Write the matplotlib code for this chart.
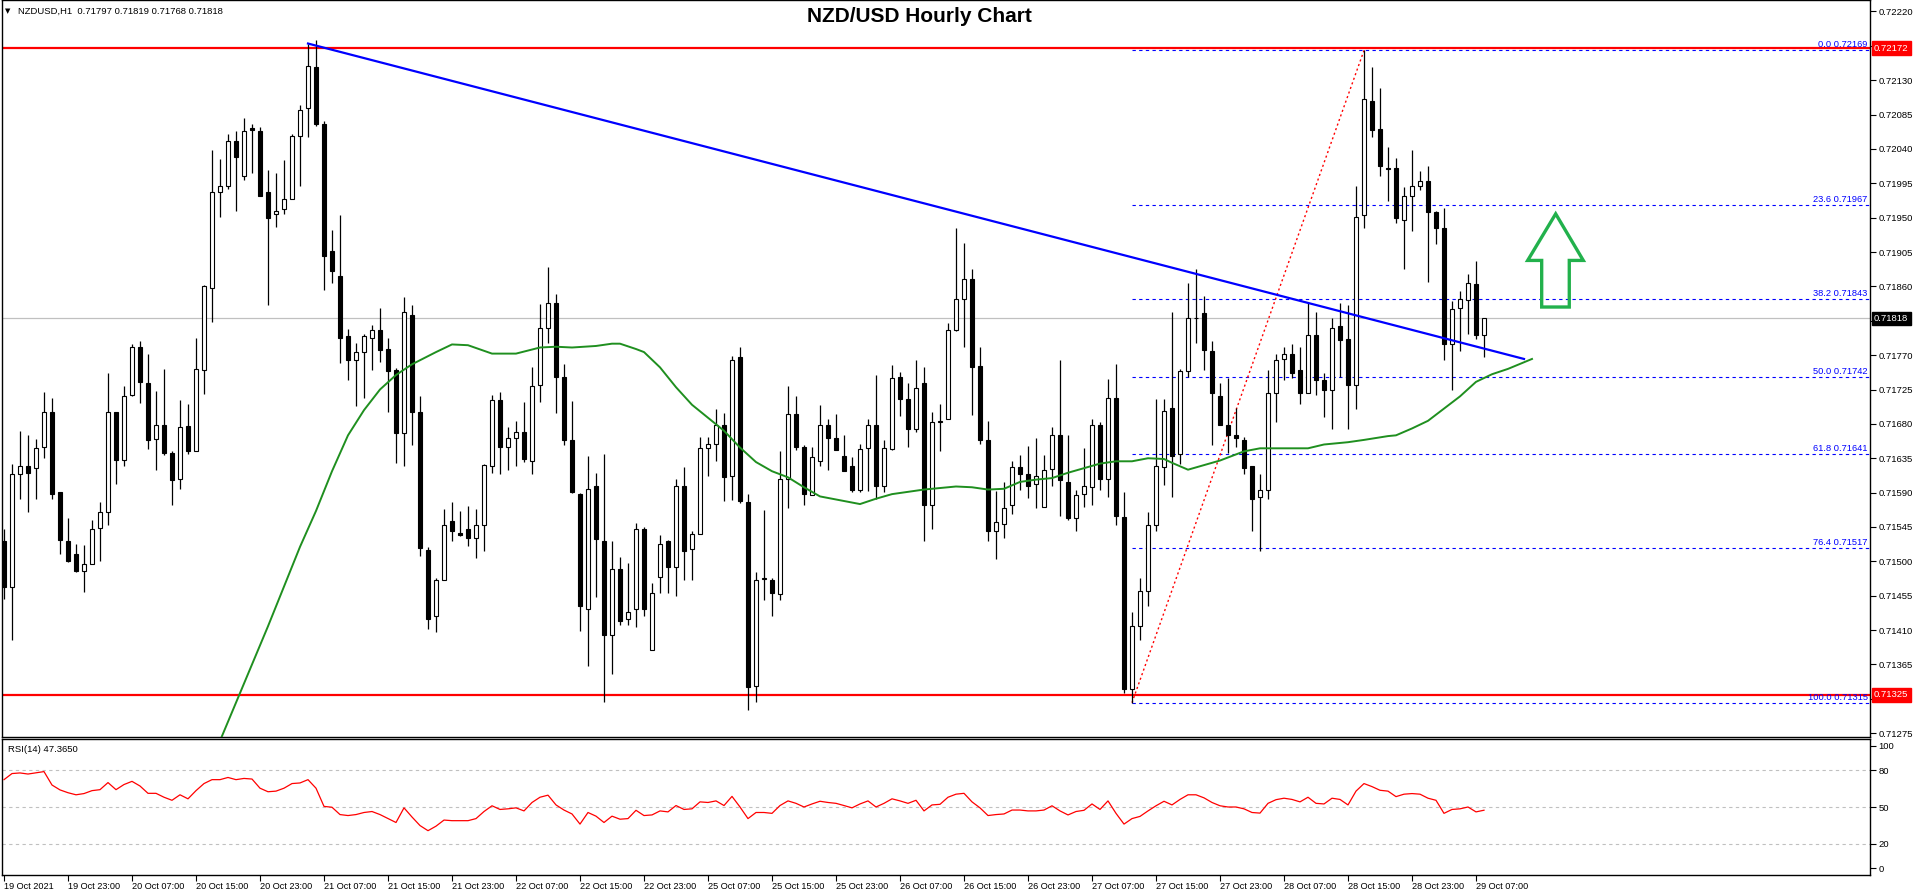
import matplotlib
matplotlib.use('Agg')
import matplotlib.pyplot as plt
from matplotlib.patches import Polygon
import matplotlib.transforms as mtransforms

plt.rcParams['font.family'] = ['Liberation Sans', 'DejaVu Sans']

# ---------------- data (NZDUSD H1, 19 Oct 15:00 .. 29 Oct 08:00) ----------------
opens = [0.71527, 0.71466, 0.71615, 0.71625, 0.71622, 0.71650, 0.71696, 0.71591, 0.71527, 0.71510,
         0.71488, 0.71497, 0.71544, 0.71565, 0.71695, 0.71633, 0.71718, 0.71780, 0.71733, 0.71660,
         0.71679, 0.71642, 0.71608, 0.71677, 0.71645, 0.71751, 0.71858, 0.71984, 0.71992, 0.72051,
         0.72005, 0.72068, 0.72064, 0.71984, 0.71955, 0.71961, 0.71975, 0.72057, 0.72093, 0.72147,
         0.72073, 0.71906, 0.71873, 0.71795, 0.71763, 0.71774, 0.71793, 0.71803, 0.71778, 0.71751,
         0.71668, 0.71823, 0.71696, 0.71515, 0.71429, 0.71476, 0.71553, 0.71537, 0.71543, 0.71530,
         0.71548, 0.71625, 0.71711, 0.71650, 0.71662, 0.71670, 0.71632, 0.71731, 0.71806, 0.71838,
         0.71741, 0.71659, 0.71588, 0.71438, 0.71598, 0.71526, 0.71403, 0.71490, 0.71424, 0.71437,
         0.71543, 0.71384, 0.71480, 0.71526, 0.71493, 0.71598, 0.71516, 0.71536, 0.71649, 0.71653,
         0.71679, 0.71612, 0.71767, 0.71578, 0.71337, 0.71477, 0.71476, 0.71457, 0.71608, 0.71693,
         0.71650, 0.71587, 0.71632, 0.71679, 0.71662, 0.71638, 0.71625, 0.71594, 0.71649, 0.71678,
         0.71598, 0.71647, 0.71741, 0.71713, 0.71673, 0.71733, 0.71574, 0.71683, 0.71687, 0.71803,
         0.71843, 0.71870, 0.71756, 0.71659, 0.71540, 0.71549, 0.71574, 0.71624, 0.71615, 0.71601,
         0.71571, 0.71621, 0.71666, 0.71604, 0.71557, 0.71588, 0.71597, 0.71679, 0.71608, 0.71714,
         0.71558, 0.71333, 0.71415, 0.71461, 0.71548, 0.71624, 0.71701, 0.71641, 0.71749, 0.71819,
         0.71825, 0.71776, 0.71717, 0.71679, 0.71666, 0.71659, 0.71625, 0.71584, 0.71593, 0.71720,
         0.71765, 0.71771, 0.71750, 0.71721, 0.71797, 0.71737, 0.71725, 0.71808, 0.71791, 0.71731,
         0.71954, 0.72103, 0.72066, 0.72015, 0.72015, 0.71947, 0.71979, 0.71992, 0.71998, 0.71957,
         0.71936, 0.71784, 0.71832, 0.71842, 0.71863, 0.71797]
highs = [0.71542, 0.71628, 0.71671, 0.71665, 0.71660, 0.71722, 0.71714, 0.71591, 0.71557, 0.71523,
         0.71521, 0.71554, 0.71578, 0.71746, 0.71695, 0.71730, 0.71784, 0.71789, 0.71771, 0.71723,
         0.71752, 0.71645, 0.71711, 0.71706, 0.71792, 0.71862, 0.72039, 0.72027, 0.72060, 0.72064,
         0.72080, 0.72073, 0.72069, 0.72013, 0.72009, 0.72026, 0.72059, 0.72097, 0.72177, 0.72182,
         0.72076, 0.71934, 0.71954, 0.71804, 0.71786, 0.71798, 0.71809, 0.71832, 0.71792, 0.71753,
         0.71846, 0.71835, 0.71717, 0.71519, 0.71478, 0.71569, 0.71578, 0.71566, 0.71572, 0.71568,
         0.71628, 0.71718, 0.71722, 0.71676, 0.71684, 0.71708, 0.71754, 0.71837, 0.71886, 0.71850,
         0.71758, 0.71710, 0.71590, 0.71638, 0.71616, 0.71641, 0.71526, 0.71506, 0.71498, 0.71550,
         0.71545, 0.71472, 0.71534, 0.71528, 0.71608, 0.71623, 0.71540, 0.71663, 0.71663, 0.71699,
         0.71694, 0.71769, 0.71780, 0.71588, 0.71486, 0.71567, 0.71478, 0.71645, 0.71729, 0.71717,
         0.71652, 0.71650, 0.71705, 0.71687, 0.71693, 0.71665, 0.71636, 0.71653, 0.71687, 0.71744,
         0.71659, 0.71757, 0.71748, 0.71733, 0.71764, 0.71754, 0.71696, 0.71706, 0.71812, 0.71936,
         0.71917, 0.71883, 0.71781, 0.71684, 0.71592, 0.71604, 0.71631, 0.71639, 0.71651, 0.71662,
         0.71639, 0.71676, 0.71764, 0.71665, 0.71594, 0.71649, 0.71687, 0.71682, 0.71739, 0.71758,
         0.71591, 0.71434, 0.71478, 0.71565, 0.71713, 0.71713, 0.71827, 0.71752, 0.71865, 0.71883,
         0.71848, 0.71788, 0.71734, 0.71740, 0.71701, 0.71663, 0.71625, 0.71615, 0.71751, 0.71771,
         0.71780, 0.71784, 0.71780, 0.71839, 0.71826, 0.71746, 0.71818, 0.71838, 0.71835, 0.71992,
         0.72169, 0.72147, 0.72120, 0.72042, 0.72028, 0.71990, 0.72039, 0.72011, 0.72017, 0.71959,
         0.71962, 0.71841, 0.71854, 0.71876, 0.71893, 0.71819]
lows = [0.71451, 0.71397, 0.71582, 0.71565, 0.71581, 0.71635, 0.71582, 0.71510, 0.71499, 0.71486,
        0.71460, 0.71496, 0.71501, 0.71547, 0.71601, 0.71625, 0.71716, 0.71707, 0.71647, 0.71620,
        0.71639, 0.71574, 0.71595, 0.71641, 0.71645, 0.71719, 0.71814, 0.71951, 0.71987, 0.71959,
        0.71999, 0.72009, 0.71978, 0.71836, 0.71938, 0.71955, 0.71975, 0.71992, 0.72056, 0.72070,
        0.71855, 0.71865, 0.71760, 0.71737, 0.71703, 0.71714, 0.71750, 0.71761, 0.71696, 0.71629,
        0.71625, 0.71652, 0.71507, 0.71411, 0.71407, 0.71476, 0.71526, 0.71533, 0.71520, 0.71505,
        0.71514, 0.71616, 0.71614, 0.71619, 0.71625, 0.71630, 0.71614, 0.71708, 0.71786, 0.71694,
        0.71652, 0.71589, 0.71409, 0.71363, 0.71453, 0.71316, 0.71353, 0.71416, 0.71416, 0.71414,
        0.71428, 0.71384, 0.71459, 0.71458, 0.71455, 0.71476, 0.71475, 0.71536, 0.71612, 0.71631,
        0.71579, 0.71580, 0.71577, 0.71306, 0.71316, 0.71450, 0.71429, 0.71450, 0.71570, 0.71646,
        0.71574, 0.71587, 0.71625, 0.71620, 0.71646, 0.71618, 0.71591, 0.71591, 0.71592, 0.71581,
        0.71591, 0.71646, 0.71690, 0.71650, 0.71669, 0.71526, 0.71543, 0.71644, 0.71687, 0.71801,
        0.71780, 0.71692, 0.71653, 0.71526, 0.71503, 0.71530, 0.71562, 0.71594, 0.71583, 0.71570,
        0.71571, 0.71598, 0.71560, 0.71554, 0.71540, 0.71571, 0.71574, 0.71593, 0.71584, 0.71548,
        0.71327, 0.71315, 0.71397, 0.71441, 0.71540, 0.71600, 0.71584, 0.71628, 0.71742, 0.71786,
        0.71751, 0.71652, 0.71679, 0.71642, 0.71650, 0.71615, 0.71540, 0.71514, 0.71581, 0.71683,
        0.71738, 0.71740, 0.71706, 0.71720, 0.71718, 0.71689, 0.71673, 0.71741, 0.71673, 0.71699,
        0.71936, 0.72055, 0.72005, 0.71972, 0.71943, 0.71883, 0.71932, 0.71986, 0.71866, 0.71916,
        0.71764, 0.71725, 0.71775, 0.71798, 0.71791, 0.71768]
closes = [0.71466, 0.71615, 0.71625, 0.71616, 0.71649, 0.71696, 0.71588, 0.71528, 0.71501, 0.71488,
          0.71496, 0.71543, 0.71565, 0.71696, 0.71633, 0.71717, 0.71781, 0.71735, 0.71659, 0.71679,
          0.71642, 0.71607, 0.71676, 0.71644, 0.71752, 0.71860, 0.71983, 0.71992, 0.72051, 0.72029,
          0.72063, 0.72065, 0.71979, 0.71950, 0.71959, 0.71975, 0.72057, 0.72091, 0.72149, 0.72073,
          0.71900, 0.71880, 0.71792, 0.71763, 0.71774, 0.71795, 0.71803, 0.71777, 0.71749, 0.71668,
          0.71826, 0.71696, 0.71518, 0.71424, 0.71476, 0.71548, 0.71540, 0.71535, 0.71530, 0.71547,
          0.71626, 0.71711, 0.71650, 0.71662, 0.71670, 0.71634, 0.71730, 0.71806, 0.71838, 0.71741,
          0.71659, 0.71591, 0.71441, 0.71595, 0.71529, 0.71404, 0.71490, 0.71422, 0.71434, 0.71543,
          0.71438, 0.71459, 0.71523, 0.71493, 0.71598, 0.71514, 0.71536, 0.71649, 0.71653, 0.71678,
          0.71611, 0.71764, 0.71579, 0.71336, 0.71476, 0.71478, 0.71458, 0.71608, 0.71693, 0.71650,
          0.71588, 0.71636, 0.71678, 0.71662, 0.71646, 0.71618, 0.71594, 0.71647, 0.71678, 0.71598,
          0.71649, 0.71740, 0.71713, 0.71673, 0.71727, 0.71574, 0.71683, 0.71684, 0.71803, 0.71843,
          0.71870, 0.71755, 0.71659, 0.71540, 0.71551, 0.71570, 0.71624, 0.71614, 0.71598, 0.71612,
          0.71619, 0.71666, 0.71607, 0.71557, 0.71587, 0.71598, 0.71679, 0.71608, 0.71714, 0.71560,
          0.71333, 0.71415, 0.71461, 0.71548, 0.71625, 0.71697, 0.71638, 0.71749, 0.71818, 0.71818,
          0.71777, 0.71721, 0.71679, 0.71666, 0.71662, 0.71622, 0.71582, 0.71593, 0.71721, 0.71764,
          0.71771, 0.71746, 0.71721, 0.71797, 0.71737, 0.71725, 0.71806, 0.71790, 0.71731, 0.71951,
          0.72106, 0.72065, 0.72018, 0.72014, 0.71950, 0.71979, 0.71992, 0.71998, 0.71957, 0.71937,
          0.71784, 0.71831, 0.71843, 0.71864, 0.71797, 0.71818]

rsi = [72.4, 77.4, 77.9, 77.0, 78.0, 79.0, 68.0, 64.0, 61.7, 60.0,
       61.0, 63.4, 64.2, 70.0, 64.2, 68.4, 71.0, 67.2, 61.2, 61.2,
       58.0, 55.5, 60.0, 56.7, 63.4, 69.2, 72.4, 72.4, 74.2, 72.4,
       73.4, 72.9, 65.4, 62.5, 63.0, 65.4, 69.2, 69.7, 72.4, 65.4,
       50.5, 49.8, 43.8, 43.0, 43.8, 45.5, 46.3, 43.8, 40.5, 37.3,
       49.3, 41.8, 34.8, 30.6, 34.3, 39.3, 38.8, 38.8, 38.8, 40.5,
       46.3, 51.0, 48.0, 48.5, 49.3, 46.8, 53.7, 58.0, 59.7, 51.7,
       47.5, 44.3, 36.0, 45.5, 42.5, 37.3, 42.5, 40.0, 40.5, 47.3,
       43.0, 43.5, 46.8, 46.0, 51.2, 48.0, 48.5, 54.2, 53.7, 55.0,
       51.2, 58.7, 50.0, 40.5, 45.5, 45.5, 44.8, 51.2, 55.0, 53.0,
       50.0, 52.5, 54.7, 53.7, 53.0, 51.2, 49.3, 52.5, 55.0, 50.0,
       53.0, 56.7, 55.0, 53.0, 55.5, 46.8, 51.7, 52.2, 58.0, 60.5,
       61.2, 54.2, 49.3, 43.0, 43.8, 44.3, 47.5, 47.5, 46.8, 46.8,
       47.5, 51.0, 46.8, 43.5, 46.3, 47.3, 52.5, 48.0, 55.0, 44.8,
       36.0, 40.5, 42.3, 46.8, 51.0, 54.7, 51.7, 56.2, 60.0, 60.0,
       57.5, 53.7, 51.0, 50.0, 50.0, 48.5, 45.5, 45.0, 53.0, 56.0,
       57.2, 56.2, 54.2, 58.0, 53.0, 52.5, 57.2, 56.2, 51.7, 63.0,
       69.2, 66.7, 63.7, 63.0, 58.5, 60.5, 61.0, 60.5, 57.2, 55.5,
       44.8, 48.0, 48.5, 50.0, 46.0, 47.365]

# green moving average (read at bar positions; extends beyond last bar)
ma_idx = [26, 29, 33, 37, 39, 41, 43, 45, 47, 49, 51, 54, 56, 58, 61, 64, 67, 69, 71, 74,
          76, 77, 79, 80, 82, 84, 86, 88, 90, 92, 94, 96, 98, 100, 102, 104, 106, 107, 109, 111,
          113, 115, 117, 119, 121, 123, 125, 127, 129, 131, 133, 135, 137, 139, 141, 143, 145, 146, 148, 150,
          152, 155, 157, 160, 163, 165, 168, 170, 173, 174, 176, 178, 180, 182, 184, 186, 188, 191]
ma_val = [0.71240, 0.71315, 0.71415, 0.71519, 0.71566, 0.71618, 0.71665, 0.71698, 0.71725, 0.71744,
          0.71758, 0.71774, 0.71784, 0.71783, 0.71772, 0.71772, 0.71780, 0.71781, 0.71780, 0.71782,
          0.71785, 0.71785, 0.71778, 0.71774, 0.71754, 0.71728, 0.71705, 0.71688, 0.71671, 0.71649,
          0.71630, 0.71618, 0.71610, 0.71597, 0.71585, 0.71581, 0.71577, 0.71575, 0.71582, 0.71588,
          0.71591, 0.71594, 0.71596, 0.71598, 0.71597, 0.71594, 0.71595, 0.71604, 0.71607, 0.71609,
          0.71616, 0.71622, 0.71628, 0.71631, 0.71631, 0.71635, 0.71634, 0.71629, 0.71620, 0.71626,
          0.71632, 0.71644, 0.71648, 0.71648, 0.71648, 0.71653, 0.71656, 0.71659, 0.71664, 0.71665,
          0.71674, 0.71684, 0.71700, 0.71716, 0.71735, 0.71745, 0.71752, 0.71765]

date_labels = ["19 Oct 2021", "19 Oct 23:00", "20 Oct 07:00", "20 Oct 15:00", "20 Oct 23:00",
               "21 Oct 07:00", "21 Oct 15:00", "21 Oct 23:00", "22 Oct 07:00", "22 Oct 15:00",
               "22 Oct 23:00", "25 Oct 07:00", "25 Oct 15:00", "25 Oct 23:00", "26 Oct 07:00",
               "26 Oct 15:00", "26 Oct 23:00", "27 Oct 07:00", "27 Oct 15:00", "27 Oct 23:00",
               "28 Oct 07:00", "28 Oct 15:00", "28 Oct 23:00", "29 Oct 07:00"]

trend_x = [38, 190]
trend_y = [0.72178, 0.71765]

hlines_red = [0.72172, 0.71325]

fib_pct = [0.0, 23.6, 38.2, 50.0, 61.8, 76.4, 100.0]
fib_price = [0.72169, 0.71967, 0.71843, 0.71742, 0.71641, 0.71517, 0.71315]
fib_low_bar, fib_high_bar = 141, 170

price_ticks = [0.72220, 0.72175, 0.72130, 0.72085, 0.72040, 0.71995, 0.71950, 0.71905, 0.71860,
               0.71815, 0.71770, 0.71725, 0.71680, 0.71635, 0.71590, 0.71545, 0.71500, 0.71455,
               0.71410, 0.71365, 0.71320, 0.71275]
hidden_ticks = [0.72175, 0.71815, 0.71320]

# ---------------- figure ----------------
W, H = 1916, 896
fig = plt.figure(figsize=(W / 100, H / 100), dpi=100)
fig.patch.set_facecolor('white')
ax = fig.add_axes([2 / W, (H - 737) / H, 1868 / W, 737 / H])
rax = fig.add_axes([2 / W, 21 / H, 1868 / W, 136 / H])

n = len(opens)
xs = list(range(n))
XL = (-0.25, 233.25)

# current price line
last = closes[-1]
ax.axhline(last, color='#c0c0c0', lw=0.9, zorder=1)

# red support/resistance lines
for lv in hlines_red:
    ax.axhline(lv, color='#ff0000', lw=1.6, zorder=2)

# fib lines
for pct, pr in zip(fib_pct, fib_price):
    ax.plot([fib_low_bar, XL[1]], [pr, pr], color='#0000ff', lw=0.8,
            ls=(0, (3, 3)), zorder=2)
    ax.text(XL[1] - 0.3, pr + 0.000012, f"{pct:.1f} {pr:.5f}", color='#0000ff',
            fontsize=6.7, ha='right', va='bottom', zorder=6)
ax.plot([fib_low_bar, fib_high_bar], [fib_price[-1], fib_price[0]], color='#ff0000',
        lw=1.0, ls=(0, (1.5, 2)), zorder=2)

# candles
ax.vlines(xs, lows, highs, color='black', lw=0.9, zorder=3)
bottoms = [min(o, c) for o, c in zip(opens, closes)]
heights = [max(abs(c - o), 0.000004) for o, c in zip(opens, closes)]
fcols = ['white' if c >= o else 'black' for o, c in zip(opens, closes)]
ax.bar(xs, heights, bottom=bottoms, width=0.62, color=fcols, edgecolor='black',
       linewidth=0.8, zorder=4)

# trend line and MA
ax.plot(trend_x, trend_y, color='#0000ff', lw=1.6, zorder=5)
ax.plot(ma_idx, ma_val, color='#1f8f1f', lw=1.4, zorder=5)

# green arrow (outline)
arrow = Polygon([(193.96, 0.71955), (197.41, 0.71894), (195.66, 0.71894), (195.66, 0.71833),
                 (192.21, 0.71833), (192.21, 0.71894), (190.46, 0.71894)],
                closed=True, fill=False, edgecolor='#22b14c', lw=2.4, joinstyle='miter', zorder=6)
ax.add_patch(arrow)

ax.set_xlim(*XL)
ax.set_ylim(0.71270, 0.72235)
ax.set_xticks([])
ax.set_yticks(price_ticks)
ax.set_yticklabels(['' if t in hidden_ticks else f"{t:.5f}" for t in price_ticks])
ax.yaxis.tick_right()
ax.tick_params(axis='y', direction='out', length=4, width=0.8, pad=2, labelsize=6.8)
for s in ax.spines.values():
    s.set_linewidth(1.0)

# price boxes on the axis
bt = mtransforms.blended_transform_factory(ax.transAxes, ax.transData)
for lv in hlines_red:
    ax.text(1.0022, lv, f"{lv:.5f}", transform=bt, ha='left', va='center', fontsize=6.8,
            color='white', clip_on=False, zorder=10,
            bbox=dict(boxstyle='square,pad=0.25', facecolor='#ff0000', edgecolor='#ff0000'))
ax.text(1.0022, last, f"{last:.5f}", transform=bt, ha='left', va='center', fontsize=6.8,
        color='white', clip_on=False, zorder=10,
        bbox=dict(boxstyle='square,pad=0.25', facecolor='black', edgecolor='black'))

# ---------------- RSI ----------------
for lv in (20, 50, 80):
    rax.axhline(lv, color='#c0c0c0', lw=0.8, ls=(0, (3, 3)), zorder=1)
rax.plot(xs, rsi, color='#ff0000', lw=0.9, zorder=3)
rax.set_xlim(*XL)
rax.set_ylim(-5.7, 105.7)
rax.set_yticks([0, 20, 50, 80, 100])
rax.set_yticklabels(['0', '20', '50', '80', '100'])
rax.yaxis.tick_right()
rax.tick_params(axis='y', direction='out', length=4, width=0.8, pad=2, labelsize=6.8)
rax.set_xticks(list(range(0, 8 * len(date_labels), 8)))
rax.set_xticklabels(date_labels)
rax.tick_params(axis='x', direction='out', length=4, width=0.8, pad=1, labelsize=6.6)
for lab in rax.get_xticklabels():
    lab.set_horizontalalignment('left')
for s in rax.spines.values():
    s.set_linewidth(1.0)

# ---------------- texts ----------------
fig.text(919 / W, 1 - 17 / H, 'NZD/USD Hourly Chart', ha='center', va='center',
         fontsize=15, fontweight='bold')
fig.text(5 / W, 1 - 11 / H, '\u25BC', fontsize=5, va='center', ha='left',
         family=['DejaVu Sans'])
fig.text(18 / W, 1 - 11 / H,
         f"NZDUSD,H1  {opens[-1]:.5f} {highs[-1]:.5f} {lows[-1]:.5f} {closes[-1]:.5f}",
         fontsize=6.8, va='center', ha='left')
fig.text(8 / W, 1 - 749 / H, f"RSI(14) {rsi[-1]:.4f}", fontsize=6.8, va='center', ha='left')

fig.savefig('out.png', dpi=100, facecolor='white')
